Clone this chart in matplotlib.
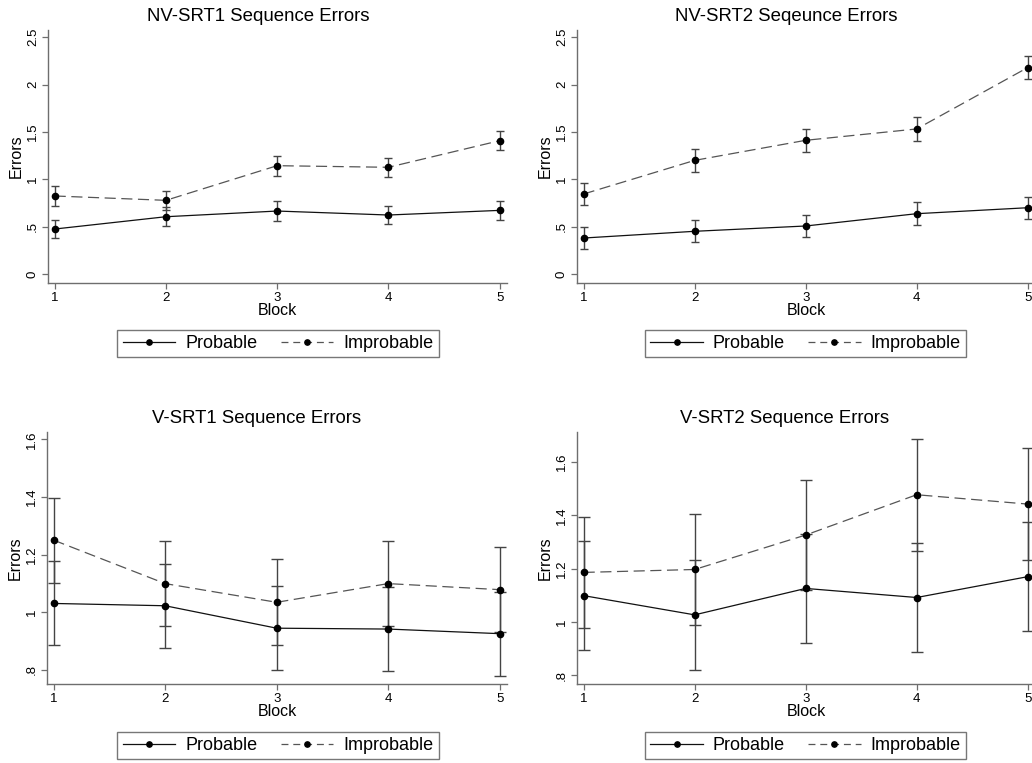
import numpy as np
import matplotlib
matplotlib.use("Agg")
import matplotlib.pyplot as plt
import matplotlib as mpl

mpl.rcParams["font.family"] = ["Liberation Sans", "DejaVu Sans"]
mpl.rcParams["lines.scale_dashes"] = False
mpl.rcParams["axes.edgecolor"] = "#6e6e6e"
mpl.rcParams["xtick.color"] = "#6e6e6e"
mpl.rcParams["ytick.color"] = "#6e6e6e"
mpl.rcParams["xtick.labelcolor"] = "black"
mpl.rcParams["ytick.labelcolor"] = "black"

blocks = [1, 2, 3, 4, 5]

# mean errors and CI half-widths per block
nv1_prob = [0.475, 0.605, 0.665, 0.623, 0.672]
nv1_prob_ci = [0.097, 0.102, 0.102, 0.099, 0.097]
nv1_improb = [0.824, 0.778, 1.144, 1.127, 1.408]
nv1_improb_ci = [0.102, 0.102, 0.104, 0.102, 0.102]

nv2_prob = [0.380, 0.451, 0.507, 0.637, 0.700]
nv2_prob_ci = [0.118, 0.118, 0.118, 0.121, 0.118]
nv2_improb = [0.845, 1.200, 1.412, 1.532, 2.180]
nv2_improb_ci = [0.120, 0.123, 0.123, 0.123, 0.120]

v1_prob = [1.030, 1.022, 0.944, 0.941, 0.925]
v1_prob_ci = [0.146, 0.146, 0.145, 0.147, 0.146]
v1_improb = [1.250, 1.099, 1.034, 1.099, 1.078]
v1_improb_ci = [0.148, 0.149, 0.149, 0.149, 0.148]

v2_prob = [1.099, 1.027, 1.126, 1.092, 1.170]
v2_prob_ci = [0.205, 0.206, 0.205, 0.204, 0.205]
v2_improb = [1.186, 1.197, 1.326, 1.477, 1.442]
v2_improb_ci = [0.209, 0.209, 0.207, 0.209, 0.209]

nv_ticks = [0, 0.5, 1, 1.5, 2, 2.5]
nv_ticklabels = ["0", ".5", "1", "1.5", "2", "2.5"]
v_ticks = [0.8, 1.0, 1.2, 1.4, 1.6]
v_ticklabels = [".8", "1", "1.2", "1.4", "1.6"]

W, H = 1032, 763
fig = plt.figure(figsize=(W / 100, H / 100), dpi=100)


def px_axes(left, top, right, bottom):
    return fig.add_axes([left / W, 1 - bottom / H, (right - left) / W, (bottom - top) / H])


def draw_panel(ax, prob, prob_ci, improb, improb_ci, ylim, ticks, ticklabels, cap):
    ax.errorbar(blocks, improb, yerr=improb_ci, fmt="none", ecolor="#444444",
                elinewidth=1.0, capsize=cap, capthick=1.0, zorder=2)
    ax.errorbar(blocks, prob, yerr=prob_ci, fmt="none", ecolor="#444444",
                elinewidth=1.0, capsize=cap, capthick=1.0, zorder=2)
    ax.plot(blocks, prob, color="#111111", lw=0.9, marker="o", ms=4.5,
            mfc="black", mec="black", label="Probable", zorder=3)
    ax.plot(blocks, improb, color="#555555", lw=0.9, dashes=(8, 4), marker="o",
            ms=4.5, mfc="black", mec="black", label="Improbable", zorder=3)
    ax.set_xlim(0.94, 5.066)
    ax.set_ylim(*ylim)
    ax.set_xticks(blocks)
    ax.set_yticks(ticks)
    ax.set_yticklabels(ticklabels, rotation=90, va="center")
    ax.tick_params(labelsize=9.5, length=4, width=0.9, pad=2.5)
    ax.spines["top"].set_visible(False)
    ax.spines["right"].set_visible(False)
    ax.spines["left"].set_linewidth(1.0)
    ax.spines["bottom"].set_linewidth(1.0)
    ax.set_xlabel("Block", fontsize=11.5, labelpad=-1)
    ax.set_ylabel("Errors", fontsize=11.5, labelpad=2)


def add_legend(ax, cx, cy):
    leg = ax.legend(loc="center", bbox_to_anchor=(cx / W, 1 - cy / H),
                    bbox_transform=fig.transFigure, ncol=2, fontsize=13,
                    frameon=True, fancybox=False, handlelength=2.9,
                    handletextpad=0.55, columnspacing=1.3, borderpad=0.3,
                    numpoints=1, markerscale=0.85)
    leg.get_frame().set_edgecolor("#555555")
    leg.get_frame().set_linewidth(1.0)
    # shorter dashes in the legend key
    leg.get_lines()[1].set_dashes((5, 3.5))


ax1 = px_axes(48, 30, 507, 283)
draw_panel(ax1, nv1_prob, nv1_prob_ci, nv1_improb, nv1_improb_ci,
           (-0.095, 2.577), nv_ticks, nv_ticklabels, 3.2)
add_legend(ax1, 278, 343.5)
fig.text(258 / W, 1 - 16.5 / H, "NV-SRT1 Sequence Errors", ha="center", va="center", fontsize=13.4)

ax2 = px_axes(577, 30, 1035, 283)
draw_panel(ax2, nv2_prob, nv2_prob_ci, nv2_improb, nv2_improb_ci,
           (-0.095, 2.577), nv_ticks, nv_ticklabels, 3.2)
add_legend(ax2, 805.5, 343.5)
fig.text(786 / W, 1 - 16.5 / H, "NV-SRT2 Seqeunce Errors", ha="center", va="center", fontsize=13.4)

ax3 = px_axes(47, 432, 507, 684)
draw_panel(ax3, v1_prob, v1_prob_ci, v1_improb, v1_improb_ci,
           (0.75, 1.626), v_ticks, v_ticklabels, 4.0)
add_legend(ax3, 278, 745.5)
fig.text(257 / W, 1 - 418.5 / H, "V-SRT1 Sequence Errors", ha="center", va="center", fontsize=13.4)

ax4 = px_axes(577, 432, 1035, 684)
draw_panel(ax4, v2_prob, v2_prob_ci, v2_improb, v2_improb_ci,
           (0.768, 1.712), v_ticks, v_ticklabels, 4.0)
add_legend(ax4, 805.5, 745.5)
fig.text(785 / W, 1 - 418.5 / H, "V-SRT2 Sequence Errors", ha="center", va="center", fontsize=13.4)

fig.savefig("out.png", dpi=100)
